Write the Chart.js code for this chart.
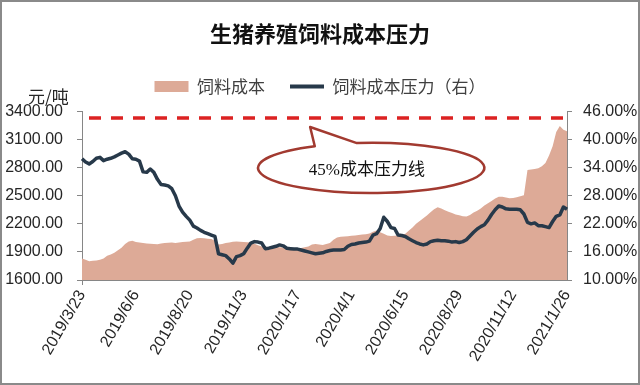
<!DOCTYPE html>
<html><head><meta charset="utf-8">
<script src="https://cdn.jsdelivr.net/npm/chart.js@4.4.1/dist/chart.umd.min.js"></script>
<style>html,body{margin:0;padding:0;background:#fff;}#wrap{width:640px;height:385px;}</style>
</head><body><div id="wrap"><canvas id="c" width="640" height="385"></canvas></div>
<script>
const chartTitle = '生猪养殖饲料成本压力';
const unitLabel = '元/吨';
const seriesNames = ['饲料成本', '饲料成本压力（右）'];
const startDate = [2019, 3, 23];
const stepDays = 5;
const labelEvery = 15;
const feedCost = [
  1830,1815,1800,1805,1808,1815,1830,1860,1872,1890,
  1918,1945,1985,2010,2020,2005,2000,1995,1990,1988,
  1985,1983,1990,1995,1998,2000,1996,2000,2005,2008,
  2010,2030,2045,2048,2045,2040,2038,2020,1980,1985,
  1995,2000,2008,2010,2008,2005,2003,2000,1988,1970,
  1958,1955,1952,1950,1952,1950,1948,1950,1945,1940,
  1938,1942,1950,1958,1980,1985,1978,1975,1985,1995,
  2030,2055,2062,2065,2068,2072,2075,2080,2085,2090,
  2098,2115,2130,2110,2095,2075,2070,2072,2075,2080,
  2095,2130,2160,2200,2230,2260,2290,2325,2355,2378,
  2365,2345,2330,2315,2300,2292,2282,2278,2295,2320,
  2340,2365,2395,2420,2445,2470,2490,2488,2480,2472,
  2475,2485,2495,2505,2775,2780,2785,2795,2815,2850,
  2930,3030,3180,3245,3205,3190
];
const costPressure = [
  35.9,35.2,34.8,35.3,36.0,36.2,35.5,35.8,36.0,36.3,
  36.7,37.1,37.4,36.9,35.9,35.8,35.4,33.1,33.0,33.7,
  33.0,31.5,30.4,30.3,30.1,29.5,28.0,25.8,24.5,23.6,
  22.8,21.5,21.1,20.6,20.2,19.9,19.6,19.3,15.6,15.4,
  15.2,14.5,13.6,15.0,15.2,15.6,16.8,17.9,18.2,18.1,
  17.9,16.7,16.8,17.0,17.2,17.5,17.3,16.8,16.7,16.6,
  16.6,16.4,16.2,16.0,15.8,15.6,15.7,15.8,16.1,16.3,
  16.4,16.4,16.4,16.5,17.2,17.6,17.7,17.9,18.0,18.1,
  18.3,19.6,19.9,21.0,23.4,22.5,21.2,21.0,19.6,19.5,
  19.3,18.8,18.4,18.0,17.7,17.5,17.7,18.2,18.4,18.5,
  18.4,18.4,18.3,18.1,18.2,18.0,18.2,18.6,19.4,20.2,
  20.9,21.4,21.8,22.8,24.0,25.0,25.8,25.6,25.2,25.1,
  25.1,25.1,25.0,24.1,22.3,22.0,22.2,21.6,21.6,21.4,
  21.2,22.5,23.6,23.9,25.6,25.1
];
const leftAxis = {min: 1600, max: 3400, step: 300};
const rightAxis = {min: 10, max: 46, step: 6};
const pressureLineValue = 44.6;
const calloutText = '45%成本压力线';
// callout placed in data units (category index, right-axis %)
const callout = {left: 49, right: 112, top: 39.3, bottom: 28.6, tip: [63.5, 42.7], baseLeft: 64.8, baseRight: 76.5, textAt: [79.3, 33.3]};

const categories = [];
for (let i = 0; i < feedCost.length; i++) {
  const d = new Date(Date.UTC(startDate[0], startDate[1] - 1, startDate[2] + i * stepDays));
  categories.push(d.getUTCFullYear() + '/' + (d.getUTCMonth() + 1) + '/' + d.getUTCDate());
}

const areaColor = '#DDAA97';
const lineColor = '#27394A';
const axisColor = '#868686';
const tickColor = '#262626';
const sansFont = '"Liberation Sans", Arial, sans-serif';
const cjkFont = '"Noto Sans CJK SC", sans-serif';

const decor = {
  id: 'decor',
  beforeDraw(chart) {
    const c = chart.ctx;
    c.save();
    c.fillStyle = '#fff';
    c.fillRect(0, 0, chart.width, chart.height);
    c.restore();
  },
  afterDatasetsDraw(chart) {
    const c = chart.ctx, xs = chart.scales.x, ys = chart.scales.y1, a = chart.chartArea;
    c.save();
    // dashed pressure line
    const yl = ys.getPixelForValue(pressureLineValue);
    c.strokeStyle = '#DC2222';
    c.lineWidth = 3.5;
    c.setLineDash([12, 10]);
    c.beginPath();
    c.moveTo(a.left + 7, yl);
    c.lineTo(a.right - 2, yl);
    c.stroke();
    c.setLineDash([]);
    // callout ellipse
    const x0 = xs.getPixelForValue(callout.left), x1 = xs.getPixelForValue(callout.right);
    const y0 = ys.getPixelForValue(callout.top), y1 = ys.getPixelForValue(callout.bottom);
    const cx = (x0 + x1) / 2, cy = (y0 + y1) / 2, rx = (x1 - x0) / 2, ry = (y1 - y0) / 2;
    const angAt = (px) => { const u = (px - cx) / rx; return Math.atan2(-Math.sqrt(Math.max(0, 1 - u * u)), u); };
    const bl = xs.getPixelForValue(callout.baseLeft), br = xs.getPixelForValue(callout.baseRight);
    const tA = angAt(bl), tB = angAt(br);
    const tx = xs.getPixelForValue(callout.tip[0]), ty = ys.getPixelForValue(callout.tip[1]);
    c.beginPath();
    c.moveTo(cx + rx * Math.cos(tA), cy + ry * Math.sin(tA));
    c.lineTo(tx, ty);
    c.lineTo(cx + rx * Math.cos(tB), cy + ry * Math.sin(tB));
    c.ellipse(cx, cy, rx, ry, 0, tB, tA + Math.PI * 2, false);
    c.closePath();
    c.fillStyle = '#fff';
    c.fill();
    c.strokeStyle = '#A23A30';
    c.lineWidth = 2.5;
    c.lineJoin = 'round';
    c.stroke();
    c.fillStyle = '#111';
    c.font = '17px "Liberation Serif", "Noto Sans CJK SC", serif';
    c.textAlign = 'center';
    c.textBaseline = 'middle';
    c.fillText(calloutText, xs.getPixelForValue(callout.textAt[0]), ys.getPixelForValue(callout.textAt[1]));
    c.restore();
  },
  afterDraw(chart) {
    const c = chart.ctx;
    c.save();
    // unit label above the left axis
    const lg = chart.legend;
    c.fillStyle = '#262626';
    c.font = '17px ' + cjkFont;
    c.textAlign = 'left';
    c.textBaseline = 'middle';
    c.fillText(unitLabel, 28, lg.bottom - 8.5);
    c.strokeStyle = '#8a8a8a';
    c.lineWidth = 2;
    c.strokeRect(1, 1, chart.width - 2, chart.height - 2);
    c.restore();
  }
};

new Chart(document.getElementById('c'), {
  type: 'line',
  data: {
    labels: categories,
    datasets: [
      {label: seriesNames[0], data: feedCost, yAxisID: 'y', backgroundColor: areaColor, borderColor: areaColor,
       borderWidth: 0, pointRadius: 0, fill: 'start', tension: 0, order: 1},
      {label: seriesNames[1], data: costPressure, yAxisID: 'y1', borderColor: lineColor, backgroundColor: lineColor,
       borderWidth: 3.5, pointRadius: 0, fill: false, tension: 0, order: 0, borderJoinStyle: 'round'}
    ]
  },
  options: {
    responsive: false,
    animation: false,
    events: [],
    layout: {padding: 0},
    plugins: {
      tooltip: {enabled: false},
      title: {display: true, text: chartTitle, color: '#111',
              font: {family: cjkFont, size: 22, weight: 'bold'}, padding: {top: 20, bottom: 6.6}},
      legend: {
        display: true, position: 'top',
        labels: {
          usePointStyle: true, pointStyleWidth: 34, boxHeight: 11, padding: 25,
          color: '#404040', font: {family: cjkFont, size: 17},
          generateLabels: (chart) => chart.data.datasets.map((ds, i) => ({
            text: ds.label, datasetIndex: i, hidden: false,
            fillStyle: i === 0 ? areaColor : lineColor,
            strokeStyle: i === 0 ? areaColor : lineColor,
            lineWidth: i === 0 ? 0 : 4,
            pointStyle: i === 0 ? 'rect' : 'line',
            fontColor: '#404040'
          }))
        }
      },
      subtitle: {display: true, text: ' ', position: 'top', weight: 500,
                 font: {size: 1, lineHeight: 1}, padding: {top: 0, bottom: 5.5}}
    },
    scales: {
      x: {
        type: 'category', offset: false,
        afterFit: (s) => { s.height = 105; },
        border: {display: true, color: axisColor, width: 1},
        grid: {drawOnChartArea: false, drawTicks: true, tickLength: 5,
               color: (ctx) => (ctx.index % labelEvery === 0 ? axisColor : 'rgba(0,0,0,0)')},
        ticks: {autoSkip: false, minRotation: 60, maxRotation: 60, padding: 2, color: tickColor,
                font: {family: sansFont, size: 16},
                callback: (v, i) => (i % labelEvery === 0 ? categories[i] : null)}
      },
      y: {
        position: 'left', min: leftAxis.min, max: leftAxis.max,
        afterFit: (s) => { s.width = 82; },
        border: {display: true, color: axisColor, width: 1},
        grid: {drawOnChartArea: false, drawTicks: true, tickLength: 5, color: axisColor},
        ticks: {stepSize: leftAxis.step, padding: 14, color: tickColor, font: {family: sansFont, size: 16},
                callback: (v) => v.toFixed(2)}
      },
      y1: {
        position: 'right', min: rightAxis.min, max: rightAxis.max,
        afterFit: (s) => { s.width = 73; },
        border: {display: true, color: axisColor, width: 1},
        grid: {drawOnChartArea: false, drawTicks: true, tickLength: 5, color: axisColor},
        ticks: {stepSize: rightAxis.step, padding: 11, color: tickColor, font: {family: sansFont, size: 16},
                callback: (v) => v.toFixed(2) + '%'}
      }
    }
  },
  plugins: [decor]
});
</script></body></html>
